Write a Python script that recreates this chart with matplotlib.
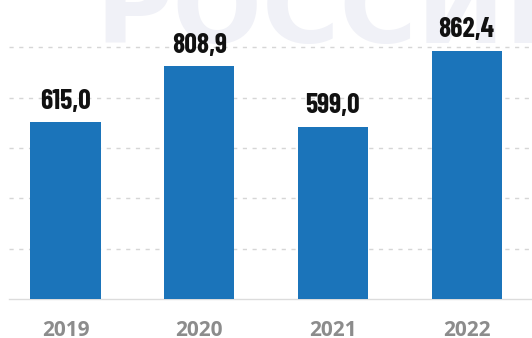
import matplotlib.pyplot as plt
import numpy as np

years = ['2019', '2020', '2021', '2022']
values = [615.0, 808.9, 599.0, 862.4]
labels = ['615,0', '808,9', '599,0', '862,4']
grid_ticks = [175, 350, 525, 700, 875]

bar_color = '#1b74ba'
sans = ['Open Sans', 'DejaVu Sans']

fig = plt.figure(figsize=(5.32, 3.38), dpi=100, facecolor='white')
ax = fig.add_axes([9 / 532, 39 / 338, 523 / 532, 299 / 338])
ax.patch.set_alpha(0)

# faint watermark lettering behind the plot
ax.text(95 / 532, (338 - 43) / 338, 'РОССИЙСКАЯ', transform=fig.transFigure,
        fontsize=76, fontweight='bold', fontstyle='normal',
        family='DejaVu Sans', color='#f0f1f7',
        va='baseline', ha='left', zorder=0, clip_on=False)

x = np.arange(len(years))
ax.bar(x, values, width=0.524, color=bar_color, zorder=3)

for xi, v, lab in zip(x, values, labels):
    ax.annotate(lab, (xi, v), xytext=(0, 6), textcoords='offset points',
                ha='center', va='bottom', fontsize=20, fontweight='bold',
                family=['Barlow Condensed', 'DejaVu Sans'], color='#111111',
                zorder=5)

ax.set_xlim(-0.4226, 3.489)
ax.set_ylim(0, 1039)

ax.set_yticks(grid_ticks)
ax.yaxis.grid(True, color='#d6d6d6', linestyle=(0, (3, 4)), linewidth=1, zorder=1)
ax.set_axisbelow(True)
ax.tick_params(axis='y', length=0, labelleft=False)

ax.set_xticks(x)
ax.set_xticklabels(years, fontsize=15, fontweight='bold', family=sans,
                   color='#8c8c8c')
ax.tick_params(axis='x', length=0, pad=15)

for side in ['top', 'right', 'left']:
    ax.spines[side].set_visible(False)
ax.spines['bottom'].set_color('#dcdcdc')
ax.spines['bottom'].set_linewidth(1)

fig.savefig('out.png', dpi=100)
